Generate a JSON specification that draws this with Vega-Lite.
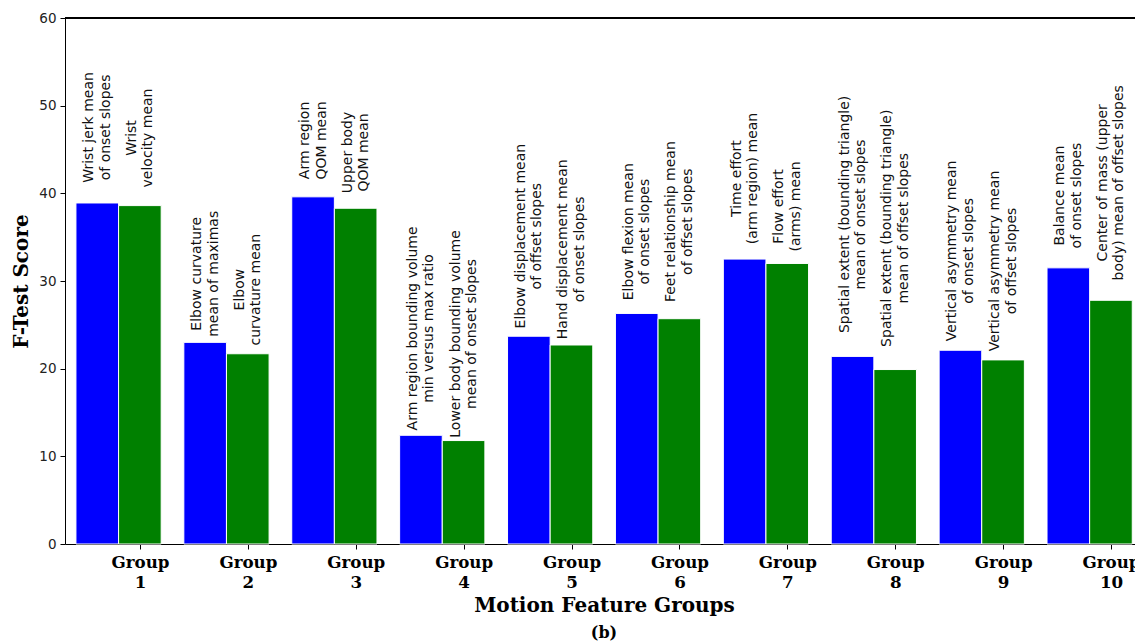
{
  "$schema": "https://vega.github.io/schema/vega-lite/v6.json",
  "width": 1070,
  "height": 526,
  "autosize": {"type": "none"},
  "padding": {"left": 65, "top": 18, "right": 0, "bottom": 97},
  "background": "white",
  "config": {"view": {"stroke": null}},
  "title": {
    "text": "(b)",
    "orient": "bottom",
    "anchor": "middle",
    "font": "DejaVu Serif",
    "fontWeight": "bold",
    "fontSize": 16,
    "color": "black",
    "offset": 10,
    "dx": 4
  },
  "data": {
    "values": [
      {"group": 1, "rank": 1, "feature": ["Wrist jerk mean", "of onset slopes"], "score": 38.9},
      {"group": 1, "rank": 2, "feature": ["Wrist", "velocity mean"], "score": 38.6},
      {"group": 2, "rank": 1, "feature": ["Elbow curvature", "mean of maximas"], "score": 23.0},
      {"group": 2, "rank": 2, "feature": ["Elbow", "curvature mean"], "score": 21.7},
      {"group": 3, "rank": 1, "feature": ["Arm region", "QOM mean"], "score": 39.6},
      {"group": 3, "rank": 2, "feature": ["Upper body", "QOM mean"], "score": 38.3},
      {"group": 4, "rank": 1, "feature": ["Arm region bounding volume", "min versus max ratio"], "score": 12.4},
      {"group": 4, "rank": 2, "feature": ["Lower body bounding volume", "mean of onset slopes"], "score": 11.8},
      {"group": 5, "rank": 1, "feature": ["Elbow displacement mean", "of offset slopes"], "score": 23.7},
      {"group": 5, "rank": 2, "feature": ["Hand displacement mean", "of onset slopes"], "score": 22.7},
      {"group": 6, "rank": 1, "feature": ["Elbow flexion mean", "of onset slopes"], "score": 26.3},
      {"group": 6, "rank": 2, "feature": ["Feet relationship mean", "of offset slopes"], "score": 25.7},
      {"group": 7, "rank": 1, "feature": ["Time effort", "(arm region) mean"], "score": 32.5},
      {"group": 7, "rank": 2, "feature": ["Flow effort", "(arms) mean"], "score": 32.0},
      {"group": 8, "rank": 1, "feature": ["Spatial extent (bounding triangle)", "mean of onset slopes"], "score": 21.4},
      {"group": 8, "rank": 2, "feature": ["Spatial extent (bounding triangle)", "mean of offset slopes"], "score": 19.9},
      {"group": 9, "rank": 1, "feature": ["Vertical asymmetry mean", "of onset slopes"], "score": 22.1},
      {"group": 9, "rank": 2, "feature": ["Vertical asymmetry mean", "of offset slopes"], "score": 21.0},
      {"group": 10, "rank": 1, "feature": ["Balance mean", "of onset slopes"], "score": 31.5},
      {"group": 10, "rank": 2, "feature": ["Center of mass (upper", "body) mean of offset slopes"], "score": 27.8}
    ]
  },
  "layer": [
    {
      "mark": {"type": "bar", "stroke": "white", "strokeWidth": 1},
      "encoding": {
        "x": {
          "field": "group",
          "type": "ordinal",
          "scale": {"paddingInner": 0.21, "paddingOuter": 0.0634, "align": 0.8},
          "axis": {
            "title": "Motion Feature Groups",
            "titleFont": "DejaVu Serif",
            "titleFontWeight": "bold",
            "titleFontSize": 20,
            "titleColor": "black",
            "titleBaseline": "alphabetic",
            "titleX": 539,
            "titleY": 67.4,
            "labelExpr": "['Group', datum.label]",
            "labelAngle": 0,
            "labelFont": "DejaVu Serif",
            "labelFontWeight": "bold",
            "labelFontSize": 16.7,
            "labelLineHeight": 20,
            "labelColor": "black",
            "labelBaseline": "top",
            "labelPadding": 5.5,
            "tickOffset": 21.4,
            "tickSize": 5,
            "tickColor": "black",
            "domainColor": "black",
            "grid": false
          }
        },
        "xOffset": {"field": "rank", "type": "ordinal", "scale": {"paddingInner": 0, "paddingOuter": 0}},
        "y": {
          "field": "score",
          "type": "quantitative",
          "scale": {"domain": [0, 60], "nice": false},
          "axis": {
            "title": "F-Test Score",
            "titleFont": "DejaVu Serif",
            "titleFontWeight": "bold",
            "titleFontSize": 20,
            "titleColor": "black",
            "titleBaseline": "alphabetic",
            "titleAlign": "center",
            "titleAngle": -90,
            "titleX": -38,
            "titleY": 263,
            "values": [0, 10, 20, 30, 40, 50, 60],
            "labelFont": "DejaVu Sans",
            "labelFontSize": 13.5,
            "labelColor": "#222222",
            "labelPadding": 4,
            "tickSize": 5,
            "tickColor": "black",
            "domainColor": "black",
            "grid": false
          }
        },
        "color": {
          "field": "rank",
          "type": "ordinal",
          "scale": {"domain": [1, 2], "range": ["#0000ff", "#008000"]},
          "legend": null
        }
      }
    },
    {
      "transform": [{"calculate": "datum.score * 1.05", "as": "label_base"}],
      "mark": {
        "type": "text",
        "angle": -90,
        "align": "center",
        "baseline": "middle",
        "font": "DejaVu Sans",
        "fontSize": 14,
        "lineHeight": 16.5,
        "color": "#111111",
        "dx": {"expr": "3.9 * max(length(datum.feature[0]), length(datum.feature[1]))"},
        "dy": -8
      },
      "encoding": {
        "x": {"field": "group", "type": "ordinal"},
        "xOffset": {"field": "rank", "type": "ordinal"},
        "y": {"field": "label_base", "type": "quantitative"},
        "text": {"field": "feature"}
      }
    },
    {
      "mark": {"type": "rule", "color": "black", "strokeWidth": 1},
      "encoding": {"y": {"datum": 60}}
    }
  ]
}
